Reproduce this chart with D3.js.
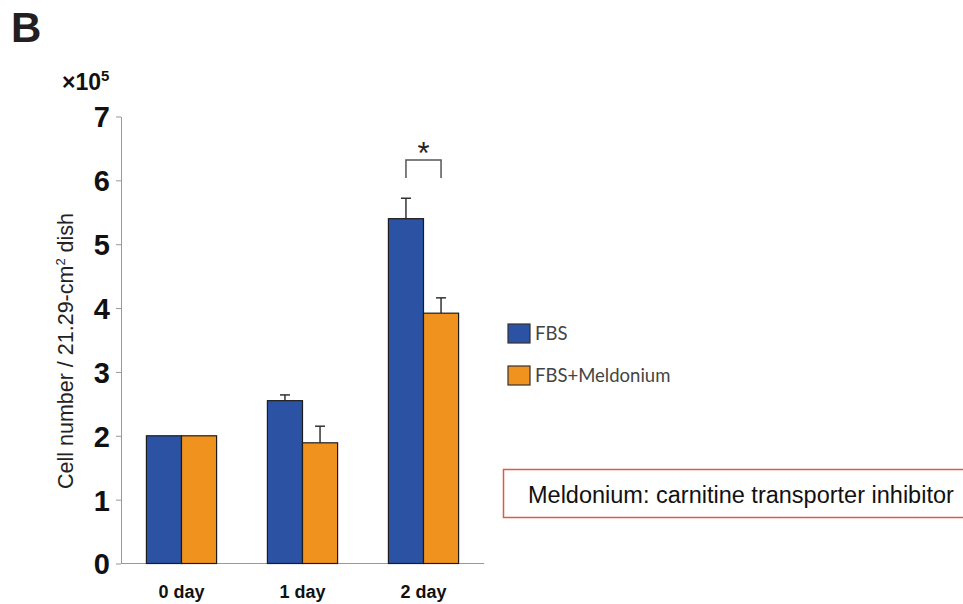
<!DOCTYPE html>
<meta charset='utf-8'>
<style>
    body { margin: 0; background: #fff }
    text { font-family: 'Liberation Sans', Arial, sans-serif }
</style>
<body>
    <script src='https://d3js.org/d3.v7.min.js'></script>
    <script>
        var width = 963,
            height = 604;

        // data
        var days = ['0 day', '1 day', '2 day'];
        var series = ['FBS', 'FBS+Meldonium'];
        var fbs = [2.0, 2.55, 5.40];
        var fbsErr = [0, 0.09, 0.32];
        var meld = [2.0, 1.89, 3.92];
        var meldErr = [0, 0.26, 0.24];
        var yTicks = [0, 1, 2, 3, 4, 5, 6, 7];

        var colors = ['#2b52a3', '#f0921e'];

        var rows = [];
        days.forEach(function(d, i) {
            rows.push({ day: d, s: series[0], v: fbs[i], e: fbsErr[i] });
            rows.push({ day: d, s: series[1], v: meld[i], e: meldErr[i] });
        });

        var svg = d3.select('body').append('svg')
            .attr('width', width)
            .attr('height', height);

        var x = d3.scaleBand().domain(days).range([121, 484]).paddingInner(0.42).paddingOuter(0.21);
        var xs = d3.scaleBand().domain(series).range([0, x.bandwidth()]);
        var y = d3.scaleLinear().domain([0, 7]).range([563.5, 116.5]);

        // panel letter
        svg.append('text').attr('x', 11).attr('y', 42)
            .style('font-size', '42px').style('font-weight', 'bold').style('fill', '#231f20')
            .text('B');

        // multiplier
        var mult = svg.append('text').attr('x', 62).attr('y', 90)
            .style('font-size', '23px').style('font-weight', 'bold').style('fill', '#111');
        mult.append('tspan').text('×10');
        mult.append('tspan').attr('dy', -9).style('font-size', '15px').text('5');

        // y axis
        var yAxis = svg.append('g').attr('transform', 'translate(121,0)')
            .call(d3.axisLeft(y).tickValues(yTicks).tickFormat(d3.format('d'))
                .tickSize(5).tickSizeOuter(0).tickPadding(6));
        yAxis.select('.domain').attr('stroke', '#999');
        yAxis.selectAll('.tick line').attr('stroke', '#999');
        yAxis.selectAll('.tick text')
            .style('font-size', '29px').style('font-weight', 'bold').style('fill', '#111')
            .style('font-family', "'Liberation Sans', Arial, sans-serif")
            .attr('dy', '0.36em');

        // x axis baseline + labels
        svg.append('line').attr('x1', 121).attr('x2', 484)
            .attr('y1', y(0)).attr('y2', y(0)).attr('stroke', '#999');
        svg.selectAll('.xlab').data(days).enter().append('text')
            .attr('class', 'xlab')
            .attr('x', function(d) { return x(d) + x.bandwidth() / 2; })
            .attr('y', 598)
            .attr('text-anchor', 'middle')
            .style('font-size', '18px').style('font-weight', 'bold').style('fill', '#111')
            .text(function(d) { return d; });

        // y title
        var yt = svg.append('text')
            .attr('transform', 'translate(73,351) rotate(-90)')
            .attr('text-anchor', 'middle')
            .style('font-size', '21.5px').style('fill', '#222');
        yt.append('tspan').text('Cell number / 21.29-cm');
        yt.append('tspan').attr('dy', -8).style('font-size', '13px').text('2');
        yt.append('tspan').attr('dy', 8).text(' dish');

        // error bars (drawn under bars)
        var eb = svg.selectAll('.err').data(rows.filter(function(d) { return d.e > 0; }))
            .enter().append('g').attr('class', 'err');
        eb.append('line')
            .attr('x1', function(d) { return x(d.day) + xs(d.s) + xs.bandwidth() / 2; })
            .attr('x2', function(d) { return x(d.day) + xs(d.s) + xs.bandwidth() / 2; })
            .attr('y1', function(d) { return y(d.v); })
            .attr('y2', function(d) { return y(d.v + d.e); })
            .attr('stroke', '#333').attr('stroke-width', 1.5);
        eb.append('line')
            .attr('x1', function(d) { return x(d.day) + xs(d.s) + xs.bandwidth() / 2 - 5; })
            .attr('x2', function(d) { return x(d.day) + xs(d.s) + xs.bandwidth() / 2 + 5; })
            .attr('y1', function(d) { return y(d.v + d.e); })
            .attr('y2', function(d) { return y(d.v + d.e); })
            .attr('stroke', '#333').attr('stroke-width', 1.5);

        // bars
        svg.selectAll('.bar').data(rows).enter().append('rect')
            .attr('class', 'bar')
            .attr('x', function(d) { return x(d.day) + xs(d.s); })
            .attr('y', function(d) { return y(d.v); })
            .attr('width', xs.bandwidth())
            .attr('height', function(d) { return y(0) - y(d.v); })
            .attr('fill', function(d) { return colors[series.indexOf(d.s)]; })
            .attr('stroke', '#1c1c1c').attr('stroke-width', 1.2);

        // significance bracket on 2 day
        var d2 = days[2];
        var bx1 = x(d2) + xs(series[0]) + xs.bandwidth() / 2;
        var bx2 = x(d2) + xs(series[1]) + xs.bandwidth() / 2;
        var by = y(6.32);
        svg.append('path')
            .attr('d', 'M' + bx1 + ',' + (by + 18) + 'V' + by + 'H' + bx2 + 'V' + (by + 18))
            .attr('fill', 'none').attr('stroke', '#555').attr('stroke-width', 1.5);
        svg.append('text').attr('x', (bx1 + bx2) / 2).attr('y', by + 4)
            .attr('text-anchor', 'middle')
            .style('font-size', '31px').style('fill', '#222')
            .text('*');

        // legend
        var lg = svg.selectAll('.lg').data(series).enter().append('g')
            .attr('class', 'lg')
            .attr('transform', function(d, i) { return 'translate(508,' + (324 + i * 42) + ')'; });
        lg.append('rect').attr('width', 22).attr('height', 19)
            .attr('fill', function(d, i) { return colors[i]; })
            .attr('stroke', '#333').attr('stroke-width', 1.2);
        lg.append('text').attr('x', 27).attr('y', 10).attr('dy', '0.35em')
            .style('font-family', 'Lato, sans-serif')
            .style('font-size', '18.5px').style('fill', '#444')
            .text(function(d) { return d; });

        // note box
        svg.append('rect').attr('x', 503.5).attr('y', 469.5).attr('width', 470).attr('height', 48)
            .attr('fill', 'none').attr('stroke', '#dd5a44').attr('stroke-width', 1.5);
        svg.append('text').attr('x', 528).attr('y', 503)
            .style('font-size', '23.5px').style('fill', '#111')
            .text('Meldonium: carnitine transporter inhibitor');
    </script>
</body>
